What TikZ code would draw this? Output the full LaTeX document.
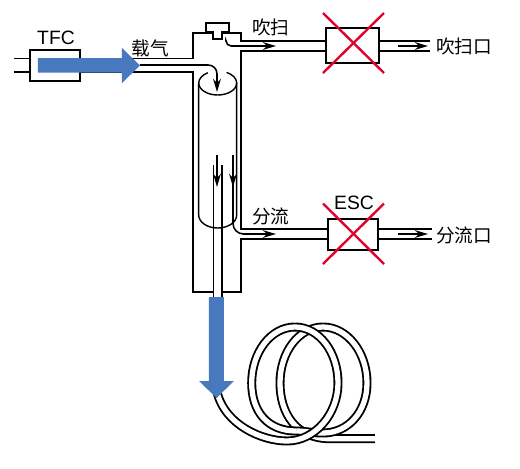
\documentclass[tikz,border=0pt]{standalone}
\usepackage{fontspec}
\setmainfont{Liberation Sans}
\newfontfamily\cjk{Noto Sans CJK SC}
\usetikzlibrary{arrows.meta,positioning,calc}
\definecolor{flowblue}{HTML}{4878BE}
\definecolor{crossred}{HTML}{E2002D}

\begin{document}
\begin{tikzpicture}[
  scale=0.02, yscale=-1,
  pipe/.style={line width=1.1pt, line join=miter},
  liner/.style={line width=0.8pt},
  unit/.style={draw, line width=1.1pt, fill=white, inner sep=0pt},
  lbl/.style={inner sep=0pt, font=\fontsize{11pt}{13pt}\selectfont},
  cjklbl/.style={inner sep=0pt, font=\fontsize{10.6pt}{13pt}\selectfont\cjk},
  flow/.style={line width=0.9pt, -{Stealth[length=7.5pt,width=4.4pt,inset=2.4pt]}},
  xout/.style={line width=1.35pt, crossred},
  coil/.style={line width=1.05pt, double=white, double distance=3pt},
  bigflow/.style={fill=flowblue, draw=none}
]
\useasboundingbox (0,0) rectangle (520,469);

% boxes
\node[unit, minimum width=1cm, minimum height=0.62cm]    (tfc)   at (55,65.5)   {};
\node[unit, minimum width=1.07cm, minimum height=0.7cm]  (purge) at (352.5,45.5) {};
\node[unit, minimum width=1cm, minimum height=0.62cm]    (esc)   at (353,234.5) {};

% inlet and injector body
\draw[pipe] (14,58.5) -- (tfc.west |- 0,58.5);
\draw[pipe] (14,72) -- (tfc.west |- 0,72);
\draw[pipe] (tfc.east |- 0,58.5) -- (193.3,58.5) -- (193.3,33.3) -- (213,33.3);
\draw[pipe] (tfc.east |- 0,72) -- (193.3,72) -- (193.3,291.6) -- (213.5,291.6);
\draw[pipe] (222,291.6) -- (240.7,291.6) -- (240.7,239) -- (esc.west |- 0,239);
\draw[pipe] (esc.west |- 0,229) -- (240.7,229) -- (240.7,51) -- (purge.west |- 0,51);
\draw[pipe] (purge.west |- 0,40.7) -- (240.7,40.7) -- (240.7,33.3) -- (222,33.3);

% septum
\draw[pipe] (213,31.7) -- (205.7,31.7) -- (205.7,22.7) -- (229.3,22.7) -- (229.3,31.7) -- (222,31.7) -- (222,39.3) -- (213,39.3) -- cycle;

% outlets
\draw[pipe] (purge.east |- 0,40.7) -- (430,40.7);
\draw[pipe] (purge.east |- 0,51) -- (430,51);
\draw[pipe] (esc.east |- 0,229) -- (432,229);
\draw[pipe] (esc.east |- 0,239) -- (432,239);

% liner
\draw[liner] (198.7,83) -- (198.7,215) arc[start angle=180, end angle=0, x radius=19, y radius=13] -- (236.7,83);
\draw[liner] (198.7,83) arc[start angle=180, end angle=0, x radius=19, y radius=12];
\draw[liner] (198.7,83) arc[start angle=180, end angle=239, x radius=19, y radius=12];
\draw[liner] (236.7,83) arc[start angle=360, end angle=298, x radius=19, y radius=12];

% column
\draw[liner] (213.5,165) -- (213.5,297);
\draw[liner] (222,165) -- (222,297);

% flows
\draw[flow, rounded corners=5pt] (140,65) -- (217,65) -- (217,92);
\draw[flow] (217,155) -- (217,187);
\draw[flow] (233,155) -- (233,187);
\draw[flow, rounded corners=6pt] (233,180) -- (233,234) -- (276,234);
\draw[flow, rounded corners=3pt] (226,41.5) -- (226,46) -- (276,46);
\draw[flow] (398,46) -- (428,46);
\draw[flow] (398,234) -- (428,234);

% crosses
\draw[xout] (323,13) -- (384,73);
\draw[xout] (384,13) -- (323,73);
\draw[xout] (323,203.5) -- (384,264);
\draw[xout] (384,203.5) -- (323,264);

% coil
\draw[coil] (323,327) .. controls (299,327) and (280,352) .. (280,383) .. controls (280,412) and (295,438.7) .. (330,438.7) -- (375,438.7);
\draw[coil] (296,431) .. controls (305,431) and (312,433) .. (323,433) .. controls (348,433) and (367,412) .. (367,383) .. controls (367,352) and (347,327) .. (323,327);
\draw[coil] (295,327) .. controls (271,327) and (251.7,352) .. (251.7,383) .. controls (251.7,412) and (268,431) .. (296,431);
\draw[coil] (217,392) .. controls (225,425) and (262,441) .. (287,441) .. controls (315,441) and (338,414) .. (338,383) .. controls (338,352) and (319,327) .. (295,327);

% carrier and sample arrows
\fill[bigflow] (38,58) -- (122,58) -- (122,48) -- (140,65.5) -- (122,83) -- (122,72.5) -- (38,72.5) -- cycle;
\fill[bigflow] (209,297) -- (224,297) -- (224,381) -- (234,381) -- (216.5,398) -- (199,381) -- (209,381) -- cycle;

% labels
\node[lbl]    (tfclabel)   at (56,38)    {TFC};
\node[lbl]    (esclabel)   at (354,203)  {ESC};
\node[cjklbl] (carrier)    at (150.5,48) {载气};
\node[cjklbl] (purgelabel) at (271,27)   {吹扫};
\node[cjklbl] (purgeport)  at (464,46)   {吹扫口};
\node[cjklbl] (splitlabel) at (271,216)  {分流};
\node[cjklbl] (splitport)  at (464,235)  {分流口};
\end{tikzpicture}
\end{document}
